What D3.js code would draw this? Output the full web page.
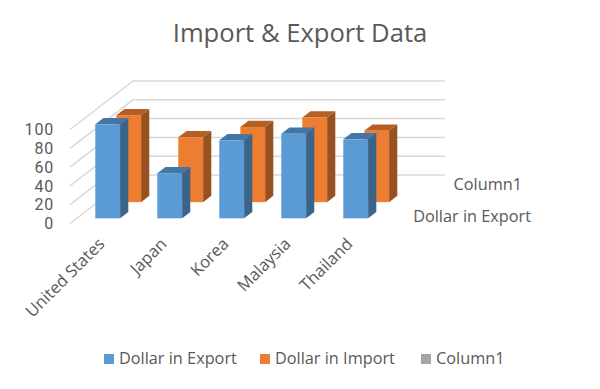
<!DOCTYPE html>
<html><head><meta charset="utf-8">
<script src="https://cdn.jsdelivr.net/npm/d3@7"></script>
<style>html,body{margin:0;padding:0;background:#fff}svg{display:block}text{font-family:"Open Sans","Noto Sans",sans-serif;fill:#595959}</style>
</head><body><svg id="c" width="600" height="389"></svg>
<script>
const categories = ["United States","Japan","Korea","Malaysia","Thailand"];
const seriesNames = ["Dollar in Export","Dollar in Import","Column1"];
const dollarInExport = [100,48,83,90,84];
const dollarInImport = [92.5,69,80,90,76];
const yTicks = [0,20,40,60,80,100];
const depthLabels = ["Dollar in Export","Column1"];
const colors = ["#5b9bd5","#ed7d31","#a5a5a5"];
const sideColors = ["#3a6489","#975020"];
const topColors = ["#4577a6","#b65f25"];

const svg = d3.select("#c");
const W = 600, H = 389;
svg.append("rect").attr("width",W).attr("height",H).attr("fill","#fff");

const x = d3.scaleBand().domain(categories).range([95.3,368.1]).paddingInner(0.6).paddingOuter(0);
const h = d3.scaleLinear().domain([0,100]).range([0,94]);
const dx = d3.scaleLinear().domain([0,3]).range([0,63]);
const dy = d3.scaleLinear().domain([0,3]).range([0,-48.5]);
const floorX = 70, floorY = 223.5, wallRight = 445;
const barInset = 5.2;
const barDepth = 0.39;

const grid = svg.append("g").attr("stroke","#d9d9d9").attr("stroke-width",1.5).attr("fill","none");
yTicks.forEach(t=>{
  const y0 = floorY - h(t);
  const yb = y0 + dy(3), xb = floorX + dx(3);
  grid.append("path").attr("d",`M${floorX},${y0}L${xb},${yb}L${wallRight},${yb}`);
});

function bar(g, cat, v, s){
  const l = x(cat) + dx(s), r = l + x.bandwidth();
  const b = floorY - barInset + dy(s), t = b - h(v);
  const ox = dx(barDepth), oy = dy(barDepth);
  g.append("path").attr("fill",sideColors[s]).attr("d",`M${r},${t}L${r+ox},${t+oy}L${r+ox},${b+oy}L${r},${b}Z`);
  g.append("path").attr("fill",topColors[s]).attr("d",`M${l},${t}L${l+ox},${t+oy}L${r+ox},${t+oy}L${r},${t}Z`);
  g.append("rect").attr("x",l).attr("y",t).attr("width",r-l).attr("height",b-t).attr("fill",colors[s]);
}
const bars = svg.append("g");
[dollarInImport,dollarInExport].forEach(vals=>{
  const s = vals===dollarInExport?0:1;
  categories.forEach((c,i)=>bar(bars,c,vals[i],s));
});

yTicks.forEach(t=>{
  svg.append("text").attr("x",54).attr("y",floorY - h(t)).attr("dy","0.36em")
    .attr("text-anchor","end").attr("font-size",16).style("font-family","Roboto").attr("letter-spacing",0.8).text(t);
});
categories.forEach(c=>{
  const px = x(c)+x.bandwidth()/2 - 2, py = 245;
  svg.append("text").attr("transform",`translate(${px},${py}) rotate(-45)`)
    .attr("text-anchor","end").attr("font-size",16.6).text(c);
});
svg.append("text").attr("x",300).attr("y",42).attr("text-anchor","middle").attr("font-size",25.6).text("Import & Export Data");
svg.append("text").attr("x",531).attr("y",222).attr("text-anchor","end").attr("font-size",16.3).text(depthLabels[0]);
svg.append("text").attr("x",522).attr("y",190).attr("text-anchor","end").attr("font-size",16.3).text(depthLabels[1]);

const legendX = [104,260,421];
seriesNames.forEach((n,i)=>{
  svg.append("rect").attr("x",legendX[i]).attr("y",354).attr("width",10).attr("height",10).attr("fill",colors[i]);
  svg.append("text").attr("x",legendX[i]+15).attr("y",364).attr("font-size",16.3).text(n);
});
</script></body></html>
